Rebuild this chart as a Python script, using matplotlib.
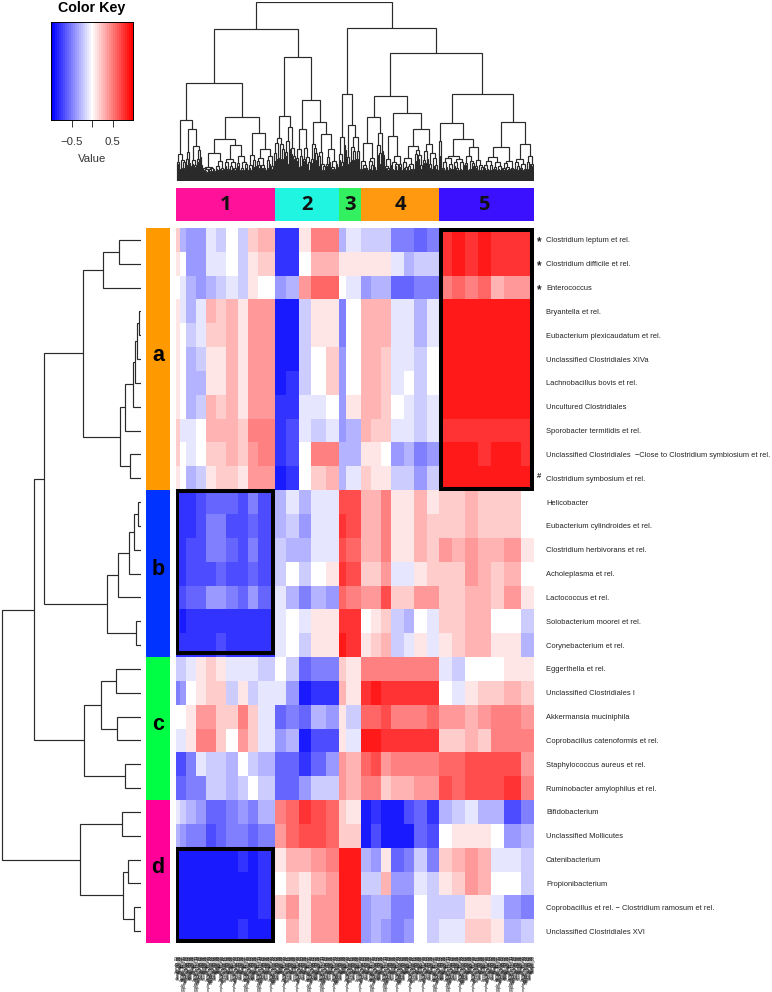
import numpy as np
import matplotlib
matplotlib.use("Agg")
import matplotlib.pyplot as plt
from matplotlib.colors import LinearSegmentedColormap
from matplotlib.patches import Rectangle

W, H = 772, 992
plt.rcParams['font.family'] = ['Liberation Sans', 'DejaVu Sans']

row_labels = [
    "Clostridium leptum et rel.", "Clostridium difficile et rel.", "Enterococcus",
    "Bryantella et rel.", "Eubacterium plexicaudatum et rel.", "Unclassified Clostridiales XIVa",
    "Lachnobacillus bovis et rel.", "Uncultured Clostridiales", "Sporobacter termitidis et rel.",
    "Unclassified Clostridiales  \u2212Close to Clostridium symbiosium et rel.", "Clostridium symbosium et rel.",
    "Helicobacter", "Eubacterium cylindroides et rel.", "Clostridium herbivorans et rel.",
    "Acholeplasma et rel.", "Lactococcus et rel.", "Solobacterium moorei et rel.", "Corynebacterium et rel.",
    "Eggerthella et rel.", "Unclassified Clostridiales I", "Akkermansia muciniphila",
    "Coprobacillus catenoformis et rel.", "Staphylococcus aureus et rel.", "Ruminobacter amylophilus et rel.",
    "Bifidobacterium", "Unclassified Mollicutes", "Catenibacterium", "Propionibacterium",
    "Coprobacillus et rel. \u2212 Clostridium ramosum et rel.", "Unclassified Clostridiales XVI",
]
row_marks = {0: "*", 1: "*", 2: "*", 10: "#"}

# samples per visible column block (clusters 1 to 5)
block_samples = [4, 6, 10, 10, 10, 10, 12, 10, 10, 16,  11, 13, 12, 15, 13,  7, 15,
                 10, 10, 10, 13, 10, 13, 12,  12, 13, 13, 13, 13, 17, 13]

# values x10, per row, per block
group_a = [
    [ 2,-3,-4,-4,-1,-2, 0,-2, 2, 3, -8,-8, 1, 5, 5, -3,-1, -2,-2,-2,-5,-5,-6,-5,  8, 9, 8, 9, 8, 8, 8],
    [ 1, 0,-4,-4,-1,-1, 0,-2, 1, 2, -8,-8, 0, 3, 3,  1, 1,  1, 1, 1,-1,-3,-2,-2,  8, 9, 8, 9, 8, 8, 8],
    [ 0,-1,-3,-4,-3,-2,-1,-2, 1, 0, -4,-3, 4, 6, 6,  0,-1, -4,-3,-3,-6,-6,-5,-5,  5, 6, 5, 6, 3, 4, 4],
    [ 1,-1,-3,-1, 3, 2, 3, 1, 4, 4, -9,-9,-2, 1, 1, -5, 0,  3, 3, 3,-1,-1,-3,-1,  9, 9, 9, 9, 9, 9, 9],
    [ 1, 0,-2,-1, 2, 2, 3, 1, 4, 4, -9,-9,-2, 1, 1, -5, 0,  3, 3, 3,-1,-1,-3,-1,  9, 9, 9, 9, 9, 9, 9],
    [ 1, 0,-3,-2, 1, 1, 3, 1, 4, 4, -9,-9,-2, 0, 2, -4, 0,  3, 3, 2,-1,-1,-2, 0,  9, 9, 9, 9, 9, 9, 9],
    [ 1, 0,-3,-3, 1, 1, 3, 1, 4, 4, -9,-8,-2, 0, 2, -4, 0,  3, 3, 2,-1, 0,-2, 0,  9, 9, 9, 9, 9, 9, 9],
    [ 1, 0,-3,-2, 3, 2, 3, 1, 4, 4, -8,-8,-1,-1, 0, -4, 1,  3, 3, 2, 0,-1,-2,-1,  9, 9, 9, 9, 9, 9, 9],
    [ 2,-1,-1, 0, 3, 3, 3, 2, 5, 5, -8,-7,-1,-2,-1, -4,-3,  3, 2, 2,-1,-1,-2,-1,  8, 8, 8, 8, 8, 8, 8],
    [ 2, 0,-1, 0, 2, 2, 3, 2, 4, 5, -8,-7, 0, 5, 5, -3,-3,  1, 1, 0,-4,-3,-5,-4,  9, 9, 9, 8, 9, 9, 8],
    [ 1, 0,-3,-2, 1, 2, 2, 1, 4, 4, -9,-8, 0, 2, 3, -3,-1,  2, 1, 1,-2,-2,-4,-2,  9, 9, 9, 9, 9, 9, 9],
]
group_b = [
    [-8,-8,-8,-7,-6,-6,-6,-7,-5,-7, -3,-1,-3,-1,-1,  7, 7,  3, 3, 5, 1, 1, 3, 1,  2, 2, 3, 2, 2, 2, 0],
    [-8,-8,-8,-7,-5,-5,-7,-7,-6,-7, -3,-2,-4,-1,-1,  8, 7,  3, 3, 5, 1, 1, 3, 2,  2, 2, 3, 2, 2, 2, 0],
    [-8,-8,-7,-7,-5,-5,-6,-7,-5,-7, -2,-3,-3,-1,-1,  7, 6,  3, 3, 5, 1, 1, 3, 2,  4, 3, 4, 3, 3, 4, 1],
    [-8,-8,-7,-7,-7,-6,-7,-7,-6,-7, -2, 0,-2, 0, 1,  8, 7,  2, 2, 4,-1,-1, 1, 2,  2, 2, 4, 3, 2, 3, 0],
    [-7,-7,-6,-6,-4,-4,-5,-6,-4,-6, -1,-3,-5,-3,-4,  6, 5,  4, 4, 7, 2, 2, 4, 4,  2, 2, 3, 3, 2, 4, 1],
    [-8,-9,-8,-8,-8,-8,-8,-8,-8,-8, -1, 0,-1, 1, 1,  8, 8,  0, 1, 2,-2,-3, 0,-1,  2, 2, 3, 3, 0, 0,-2],
    [-8,-8,-8,-8,-8,-7,-8,-8,-8,-8, -1, 0,-2, 1, 1,  9, 8,  1, 2, 3,-2,-1, 1,-1,  1, 2, 3, 3, 1, 1,-3],
]
group_c = [
    [-2,-2,-1, 1, 2, 1,-1,-1,-1,-2,  0,-2,-6,-5,-5,  2, 1,  5, 5, 5, 5, 5, 5, 5, -1,-2, 0, 0, 0, 1, 1],
    [-5,-4, 0, 1, 2, 2,-2, 1,-2,-1, -1,-4,-9,-8,-8,  3, 1,  8, 9, 8, 8, 8, 8, 8,  0,-1, 1, 2, 2, 3, 2],
    [ 0, 0, 1, 4, 4, 2, 2, 5, 2,-1, -6,-5,-6,-3,-4,  1,-2,  6, 6, 7, 5, 5, 5, 6,  4, 4, 3, 4, 5, 5, 4],
    [-1,-1, 1, 5, 5, 2, 0, 4, 2,-1, -4,-3,-9,-7,-7,  1,-1,  9, 9, 8, 8, 8, 8, 8,  2, 2, 3, 2, 5, 5, 5],
    [-7,-7,-5,-1,-2,-2,-3, 0,-2,-3, -6,-6,-8,-6,-4,  4, 3,  6, 7, 4, 5, 5, 5, 5,  6, 6, 7, 7, 7, 7, 4],
    [-6,-6,-5,-5,-2,-2,-3,-2, 0,-2, -6,-6,-4,-2,-2,  4, 3,  5, 5, 2, 3, 3, 4, 4,  7, 6, 7, 7, 7, 8, 5],
]
group_d = [
    [-1,-2,-3,-4,-6,-6,-5,-4,-5,-3,  5, 6, 8, 7, 6,  2, 1, -9,-8,-9,-9,-7,-6,-8, -3,-2,-1,-3,-3,-7,-5],
    [-3,-4,-5,-5,-7,-6,-5,-5,-6,-5,  4, 6, 7, 7, 6,  2, 2, -9,-7,-9,-9,-9,-6,-7,  0, 1, 1, 1, 0,-4,-3],
    [-9,-9,-9,-9,-9,-9,-9,-8,-9,-8,  1, 3, 3, 4, 5,  9, 9, -3,-4, 1,-6,-5,-2,-5,  2, 3, 4, 3,-1,-1,-2],
    [-9,-9,-9,-9,-9,-9,-9,-9,-9,-8,  0, 2, 1, 3, 4,  9, 9, -2,-2, 3,-4,-4,-1,-2,  1, 2, 4, 3, 0, 0,-2],
    [-9,-9,-9,-9,-9,-9,-9,-9,-9,-8,  2, 4, 1, 4, 4,  9, 9, -4,-3,-3,-5,-5, 0,-2, -2,-2, 1, 1,-1,-4,-5],
    [-9,-9,-9,-9,-9,-9,-9,-8,-9,-9,  0, 3, 1, 4, 4,  9, 9, -4,-3,-4,-5,-4, 0,-2, -1,-1, 2, 2, 1,-3,-2],
]

group_names = ["a", "b", "c", "d"]
group_colors = ["#FF9900", "#0033FF", "#00FF44", "#FF0099"]
cluster_names = ["1", "2", "3", "4", "5"]
cluster_blocks = [10, 5, 2, 7, 7]
cluster_colors = ["#FF1199", "#1FF5E0", "#33F060", "#FF9A10", "#3A10FF"]

# row dendrogram: (distance, upper, lower); 0 is a leaf
row_a = (58, (38.3, (22, 0, 0), 0),
         (21.3, (16.3, (8.3, (6.3, (4.3, (1.7, 0, 0), 0), 0), 0), 0), (11, 0, 0)))
row_b = (33.7, (22.7, (11.7, (7, (2.7, 0, 0), 0), 0), 0), (4.7, 0, 0))
row_c = (56.7, (40.3, (24.7, 0, 0), (23.7, 0, 0)), (16, 0, 0))
row_d = (60.7, (18.7, 0, 0), (18.3, (12.7, 0, 0), (7, 0, 0)))
row_tree = (139.3, (107.3, (97.3, row_a, row_b), row_c), row_d)

# sample dendrogram: (height, left, right), or (height, leaf count) for a dense clade
cl_1a = (61, (27, 9), (52, (29, 6), (35, 11)))
cl_1b = (64, (42, (28, (14, 13), (20, 9)), (36, (22, 12), (25, 12))), (48, (26, 8), (32, 17)))
cl_2 = (124, (65, (43, 11), (54, 11)), (81, (52, (32, 7), (33, 8)), (59, (37, 7), (47, (29, 8), (32, 13)))))
cl_3 = (87, (44, 8), (56, (24, 4), (44, 9)))
cl_4 = (85, (64, (38, (20, 9), (23, 8)), (48, 8)), (68, (45, (22, 7), (25, 11)), (52, (35, 20), (37, 16))))
cl_5 = (87, (58, (40, 3), (42, (25, 23), (34, 19))), (59, (34, (24, 19), (20, 12)), (37, (22, 12), (25, 8))))
col_tree = (179, (152, (98, cl_1a, cl_1b), cl_2), (153, cl_3, (128, cl_4, cl_5)))
split_cycle = [.5, .4, .6, .45, .35, .55, .65, .4, .5, .6]
shrink_cycle = [.72, .85, .62, .78, .6, .82, .68, .88, .75]

key_ticks = [-0.5, 0, 0.5]
key_tick_labels = ["\u22120.5", "", "0.5"]
sample_names = ["Sample_01", "Sample_tissue_14", "Sample_diet_07", "Sample_22", "Sample_03_rel",
                "Sample_lean_11", "Sample_ob_diet_19_run", "Sample_08", "Sample_hfd_31"]


def ax_px(l, t, r, b, **kw):
    return fig.add_axes([l / W, 1 - b / H, (r - l) / W, (b - t) / H], **kw)


fig = plt.figure(figsize=(W / 100, H / 100), dpi=100, facecolor="white")
cmap = LinearSegmentedColormap.from_list("bwr2", ["#0000FF", "#FFFFFF", "#FF0000"], N=41)

# heatmap
values = np.array(group_a + group_b + group_c + group_d) / 10.0
x_edges = np.concatenate([[0], np.cumsum(block_samples)])
ax = ax_px(176, 228, 534, 943)
ax.pcolormesh(x_edges, np.arange(31), values, cmap=cmap, vmin=-1, vmax=1, shading="flat", linewidth=0, rasterized=True)
ax.set_xlim(x_edges[0], x_edges[-1])
ax.set_ylim(30, 0)
for s in ax.spines.values():
    s.set_visible(False)
ax.set_xticks([])
ax.yaxis.tick_right()
ax.set_yticks(np.arange(30) + 0.5)
ax.set_yticklabels(row_labels, fontsize=5.44, color="#222222")
ax.tick_params(axis="y", length=0, pad=8.7)
for r, m in row_marks.items():
    ax.annotate(m, xy=(1, r + 0.5), xycoords=("axes fraction", "data"), xytext=(3.9, -1.5 if m == "*" else 1),
                textcoords="offset points", ha="center", va="center",
                fontsize=8.5 if m == "*" else 5.5, fontweight="bold", color="#222222")

# black boxes: (first block, last block, first row, last row)
cstart = np.concatenate([[0], np.cumsum(cluster_blocks)])
boxes = [(cstart[4], cstart[5], 0.1, 10.95), (0, cstart[1], 11.05, 17.85), (0, cstart[1], 26.05, 29.9)]
for b0, b1, r0, r1 in boxes:
    x0 = x_edges[b0] + 1.3
    x1 = x_edges[b1] - 2.0
    ax.add_patch(Rectangle((x0, r0), x1 - x0, r1 - r0, fill=False, edgecolor="black", linewidth=2.9, zorder=5, joinstyle="miter"))

# group side bar
axs = ax_px(146, 228, 170, 943)
counts = [len(group_a), len(group_b), len(group_c), len(group_d)]
start = 0
for name, col, n in zip(group_names, group_colors, counts):
    axs.bar(0.5, n, bottom=start, width=1, color=col, linewidth=0)
    axs.text(0.5, start + n / 2 - 0.17, name, ha="center", va="center", fontsize=15.5, fontweight="bold", color="black")
    start += n
axs.set_xlim(0, 1)
axs.set_ylim(30, 0)
axs.axis("off")

# cluster top bar
axt = ax_px(176, 188, 534, 221)
ncum = 0
for name, col, nb in zip(cluster_names, cluster_colors, cluster_blocks):
    w = sum(block_samples[ncum:ncum + nb])
    l = x_edges[ncum]
    axt.bar(l + w / 2, 1, width=w, bottom=0, color=col, linewidth=0)
    axt.text(l + w / 2 - (2.5 if name == "5" else 0), 0.5, name, ha="center", va="center", fontsize=14.5,
             fontweight="bold", family="Open Sans", color="#111111")
    ncum += nb
axt.set_xlim(x_edges[0], x_edges[-1])
axt.set_ylim(0, 1)
axt.axis("off")


# row dendrogram
axr = ax_px(0, 228, 141, 943)
LINE = dict(color="#2a2a2a", linewidth=0.85, solid_capstyle="butt", solid_joinstyle="miter")
leaf_counter = [0]


def draw_row(node):
    if node == 0:
        y = leaf_counter[0] + 0.5
        leaf_counter[0] += 1
        return y, 0.0
    d, up, lo = node
    y1, d1 = draw_row(up)
    y2, d2 = draw_row(lo)
    axr.plot([d1, d, d, d2], [y1, y1, y2, y2], **LINE)
    return (y1 + y2) / 2, d


draw_row(row_tree)
axr.set_xlim(141, 0)
axr.set_ylim(30, 0)
axr.axis("off")

# sample dendrogram
axc = ax_px(176, 2, 534, 181)
pos = [0]
cyc = [0]


def expand(h, n):
    i = cyc[0]
    cyc[0] += 1
    r = split_cycle[i % len(split_cycle)]
    n_l = min(n - 1, max(1, int(round(n * r))))
    n_r = n - n_l
    def child(m, j):
        if m == 1:
            return 1
        s = shrink_cycle[(i + j) % len(shrink_cycle)]
        return (min(h - 1.2, max(8.5 + 1.2 * m, h * s)), m)
    return (h, child(n_l, 0), child(n_r, 3))


def draw_col(node):
    if node == 1:
        x = pos[0] + 0.5
        pos[0] += 1
        return x, 0.0
    if len(node) == 2:
        node = expand(node[0], node[1])
    h, a, b = node
    x1, h1 = draw_col(a)
    x2, h2 = draw_col(b)
    axc.plot([x1, x1, x2, x2], [h1, h, h, h2], **LINE)
    return (x1 + x2) / 2, h


draw_col(col_tree)
axc.set_xlim(0, pos[0])
axc.set_ylim(0, 179)
axc.axis("off")

# sample names band
axn = ax_px(176, 955, 534, 992)
axn.set_xlim(0, pos[0])
axn.set_ylim(1, 0)
axn.axis("off")
for i in range(pos[0]):
    axn.text(i + 0.5, 0.0, sample_names[(i * 4 + i // 7) % len(sample_names)], rotation=90,
             ha="center", va="top", fontsize=2.5, color="#000000", clip_on=False)

# color key
axk = ax_px(51, 22, 133, 120)
grad = np.linspace(-1, 1, 41).reshape(1, -1)
axk.imshow(grad, cmap=cmap, vmin=-1, vmax=1, aspect="auto", extent=[-1, 1, 0, 1], interpolation="nearest")
axk.set_yticks([])
axk.set_xticks(key_ticks)
axk.set_xticklabels(key_tick_labels, fontsize=8.2, color="#333333")
axk.tick_params(axis="x", length=5, width=0.7, pad=7.5, color="#333333")
for s in axk.spines.values():
    s.set_linewidth(0.7)
axk.set_xlabel("Value", fontsize=8.2, color="#333333", labelpad=5)
axk.set_title("Color Key", fontsize=10.3, fontweight="bold", pad=7)

fig.savefig("out.png", dpi=100)
